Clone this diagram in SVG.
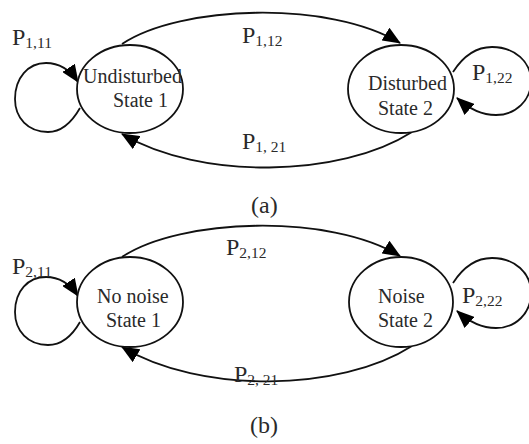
<svg xmlns="http://www.w3.org/2000/svg" width="529" height="444" viewBox="0 0 529 444">
<style>
text{font-family:"Liberation Serif","Times New Roman",serif;fill:#2a2a2a}
.node{font-size:20px}
.p{font-size:24px}
.s{font-size:15.5px}
.cap{font-size:24px}
ellipse{fill:#fff;stroke:#111;stroke-width:1.8}
.edge{fill:none;stroke:#111;stroke-width:1.8}
</style>
<defs>
<marker id="ah" markerUnits="userSpaceOnUse" markerWidth="18" markerHeight="15" viewBox="0 0 18 15" refX="17" refY="7.5" orient="auto">
<path d="M0,0 L18,7.5 L0,15 z" fill="#000"/>
</marker>
</defs>
<g id="connectors">
<path class="edge" d="M122,44 C180,5 330,0 400,43" marker-end="url(#ah)"/>
<path class="edge" d="M412,132 C340,178 200,180 122,134" marker-end="url(#ah)"/>
<path class="edge" d="M80,108 C72,122 62,132 48,132 C28,132 15,118 15,99 C15,78 28,63 46,63 C60,63 70,70 78,82" marker-end="url(#ah)"/>
<path class="edge" d="M453,72 C462,58 474,47 492,47 C515,47 531,62 531,81 C531,100 516,115 496,115 C480,115 468,108 457,98" marker-end="url(#ah)"/>
<path class="edge" d="M122,257 C180,218 330,213 400,256" marker-end="url(#ah)"/>
<path class="edge" d="M412,346 C340,392 200,394 122,347" marker-end="url(#ah)"/>
<path class="edge" d="M80,322 C72,336 62,345 48,345 C28,345 15,331 15,312 C15,291 28,277 46,277 C60,277 70,284 78,296" marker-end="url(#ah)"/>
<path class="edge" d="M453,283 C462,269 474,258 492,258 C515,258 531,273 531,293 C531,313 516,328 496,328 C480,328 468,321 457,311" marker-end="url(#ah)"/>
</g>
<g id="a-state1">
<ellipse cx="130" cy="89" rx="53" ry="44"/>
<text class="node" x="83" y="83">Undisturbed</text>
<text class="node" x="113" y="107">State 1</text>
</g>
<g id="a-state2">
<ellipse cx="401" cy="89" rx="53" ry="44"/>
<text class="node" x="368" y="90">Disturbed</text>
<text class="node" x="378" y="115">State 2</text>
</g>
<g id="b-state1">
<ellipse cx="130" cy="302" rx="53" ry="45"/>
<text class="node" x="97" y="303">No noise</text>
<text class="node" x="106" y="327">State 1</text>
</g>
<g id="b-state2">
<ellipse cx="401" cy="302" rx="52" ry="45"/>
<text class="node" x="378" y="303">Noise</text>
<text class="node" x="378" y="327">State 2</text>
</g>
<g id="labels">
<text x="12" y="45"><tspan class="p">P</tspan><tspan class="s" dy="3">1,11</tspan></text>
<text x="242" y="43"><tspan class="p">P</tspan><tspan class="s" dy="3">1,12</tspan></text>
<text x="242" y="149"><tspan class="p">P</tspan><tspan class="s" dy="3">1, 21</tspan></text>
<text x="472" y="80"><tspan class="p">P</tspan><tspan class="s" dy="3">1,22</tspan></text>
<text class="cap" x="251" y="213">(a)</text>
<text x="12" y="274"><tspan class="p">P</tspan><tspan class="s" dy="3">2,11</tspan></text>
<text x="226" y="255"><tspan class="p">P</tspan><tspan class="s" dy="3">2,12</tspan></text>
<text x="234" y="382"><tspan class="p">P</tspan><tspan class="s" dy="3">2, 21</tspan></text>
<text x="462" y="303"><tspan class="p">P</tspan><tspan class="s" dy="3">2,22</tspan></text>
<text class="cap" x="250" y="433">(b)</text>
</g>
</svg>
